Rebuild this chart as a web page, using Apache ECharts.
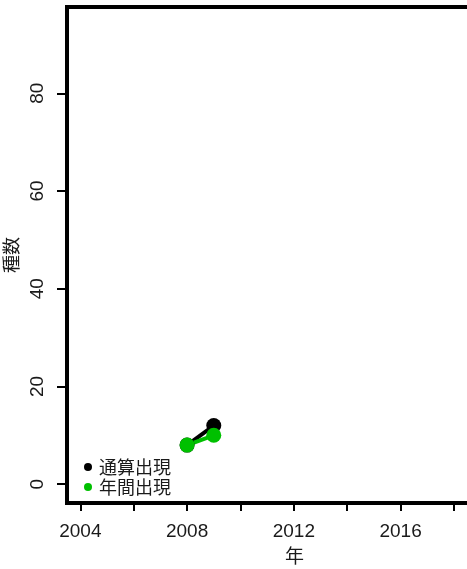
<!DOCTYPE html>
<html><head><meta charset="utf-8">
<script src="https://cdn.jsdelivr.net/npm/echarts@6/dist/echarts.min.js"></script>
<style>html,body{margin:0;padding:0;background:#fff}#c{width:467px;height:569px}</style>
</head><body><div id="c"></div>
<script>
const years = [2008, 2009];
const cumulative = [8, 12];
const annual = [8, 10];
const xTicks = [2004, 2006, 2008, 2010, 2012, 2014, 2016, 2018, 2020];
const xLabels = [2004, 2008, 2012, 2016, 2020];
const yTicks = [0, 20, 40, 60, 80];
const names = ['通算出現', '年間出現'];
const FONT = 'Liberation Sans, Arial, sans-serif';
const CJK = '"Noto Sans CJK JP", sans-serif';
const chart = echarts.init(document.getElementById('c'), null, {renderer:'canvas'});
chart.setOption({
  animation:false,
  grid:{left:67, top:7, width:455, height:496, show:true, borderColor:'#000', borderWidth:4,
    backgroundColor:'transparent', outerBoundsMode:'none', containLabel:false},
  legend:{orient:'vertical', left:79, top:453, itemWidth:8, itemHeight:8, itemGap:2, icon:'circle',
    textStyle:{fontFamily:CJK, fontSize:18, lineHeight:18, color:'#1a1a1a', padding:[0,0,0,2]}, data:names},
  xAxis:{type:'value', min:2003.5, max:2020.55, position:'bottom',
    name:'年', nameLocation:'middle', nameGap:42, nameTextStyle:{fontFamily:CJK, fontSize:19, color:'#1a1a1a'},
    axisLine:{show:true, onZero:false, lineStyle:{color:'#000', width:1}}, splitLine:{show:false},
    axisTick:{show:true, length:8, customValues:xTicks, lineStyle:{color:'#000', width:2}},
    axisLabel:{customValues:xLabels, margin:19, fontFamily:FONT, fontSize:19, color:'#1a1a1a', formatter:v=>String(v)}},
  yAxis:{type:'value', min:-3.85, max:97.65,
    name:'種数', nameLocation:'middle', nameGap:46, nameRotate:90, nameTextStyle:{fontFamily:CJK, fontSize:18, color:'#1a1a1a'},
    axisLine:{show:true, onZero:false, lineStyle:{color:'#000', width:1}}, splitLine:{show:false},
    axisTick:{show:true, length:10, customValues:yTicks, lineStyle:{color:'#000', width:2}},
    axisLabel:{customValues:yTicks, rotate:90, margin:20, fontFamily:FONT, fontSize:19, color:'#1a1a1a', formatter:v=>String(v)}},
  series:[
    {name:names[0], type:'line', data:years.map((y,i)=>[y,cumulative[i]]), symbol:'circle', symbolSize:15,
     itemStyle:{color:'#000'}, lineStyle:{color:'#000', width:4}},
    {name:names[1], type:'line', data:years.map((y,i)=>[y,annual[i]]), symbol:'circle', symbolSize:15,
     itemStyle:{color:'#00c000'}, lineStyle:{color:'#00c000', width:4}}
  ]
});
</script></body></html>
